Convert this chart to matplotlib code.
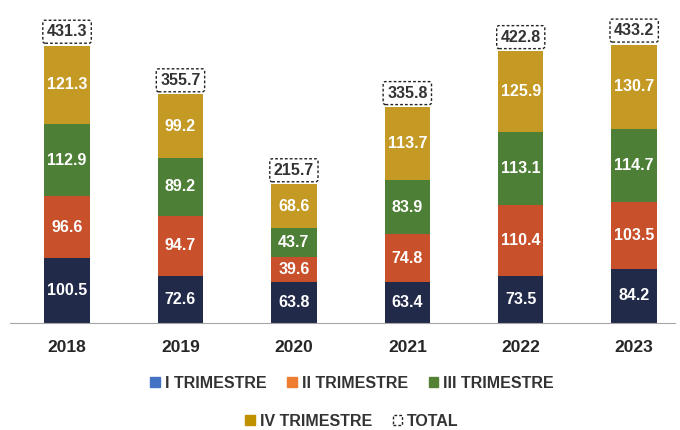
import matplotlib.pyplot as plt
from matplotlib.patches import Patch

years = ['2018', '2019', '2020', '2021', '2022', '2023']
q1 = [100.5, 72.6, 63.8, 63.4, 73.5, 84.2]
q2 = [96.6, 94.7, 39.6, 74.8, 110.4, 103.5]
q3 = [112.9, 89.2, 43.7, 83.9, 113.1, 114.7]
q4 = [121.3, 99.2, 68.6, 113.7, 125.9, 130.7]
totals = [431.3, 355.7, 215.7, 335.8, 422.8, 433.2]

series = [q1, q2, q3, q4]
names = ['I TRIMESTRE', 'II TRIMESTRE', 'III TRIMESTRE', 'IV TRIMESTRE']
bar_colors = ['#222A4A', '#C8502A', '#4E7F36', '#C49A25']
legend_colors = ['#4472C4', '#ED7D31', '#548235', '#BF9000']

fig = plt.figure(figsize=(6.8, 4.3), dpi=100)
ax = fig.add_axes([10 / 680, 107 / 430, 665 / 680, 302 / 430])

x = range(len(years))
bottom = [0] * len(years)
for vals, col in zip(series, bar_colors):
    ax.bar(x, vals, width=0.4, bottom=bottom, color=col)
    for i, v in enumerate(vals):
        ax.text(i, bottom[i] + v / 2, f'{v:.1f}', ha='center', va='center',
                color='white', fontsize=11.5, fontweight='bold', family='Liberation Sans')
    bottom = [b + v for b, v in zip(bottom, vals)]

for i, t in enumerate(totals):
    ax.text(i, bottom[i] + 22, f'{t:.1f}', ha='center', va='center', color='#333333',
            fontsize=11.5, fontweight='bold', family='Liberation Sans',
            bbox=dict(boxstyle='round,pad=0.25,rounding_size=0.15', fc='white',
                      ec='#222222', ls=(0, (2, 1.5)), lw=1))

ax.set_xlim(-0.503, 5.36)
ax.set_ylim(0, 470)
ax.set_xticks(list(x))
ax.set_xticklabels(years, fontsize=12.5, fontweight='bold', color='#262626', family='Liberation Sans')
ax.tick_params(axis='x', length=0, pad=12)
ax.set_yticks([])
for s in ['top', 'right', 'left']:
    ax.spines[s].set_visible(False)
ax.spines['bottom'].set_color('#A6A6A6')

legend_font = {'family': 'Liberation Sans', 'weight': 'bold', 'size': 11.5}
h1 = [Patch(color=c) for c in legend_colors[:3]]
leg1 = fig.legend(h1, names[:3], loc='center', bbox_to_anchor=(352 / 680, 1 - 383 / 430), ncol=3,
                  frameon=False, handlelength=0.6, handleheight=0.6, columnspacing=1.3, handletextpad=0.3,
                  prop=legend_font)
h2 = [Patch(color=legend_colors[3]), Patch(fc='white', ec='#222222', ls=(0, (2, 1.5)))]
leg2 = fig.legend(h2, [names[3], 'TOTAL'], loc='center', bbox_to_anchor=(352 / 680, 1 - 421 / 430), ncol=2,
                  frameon=False, handlelength=0.6, handleheight=0.6, columnspacing=1.3, handletextpad=0.3,
                  prop=legend_font)
for lg in (leg1, leg2):
    for t in lg.get_texts():
        t.set_color('#333333')

fig.savefig('out.png', dpi=100)
